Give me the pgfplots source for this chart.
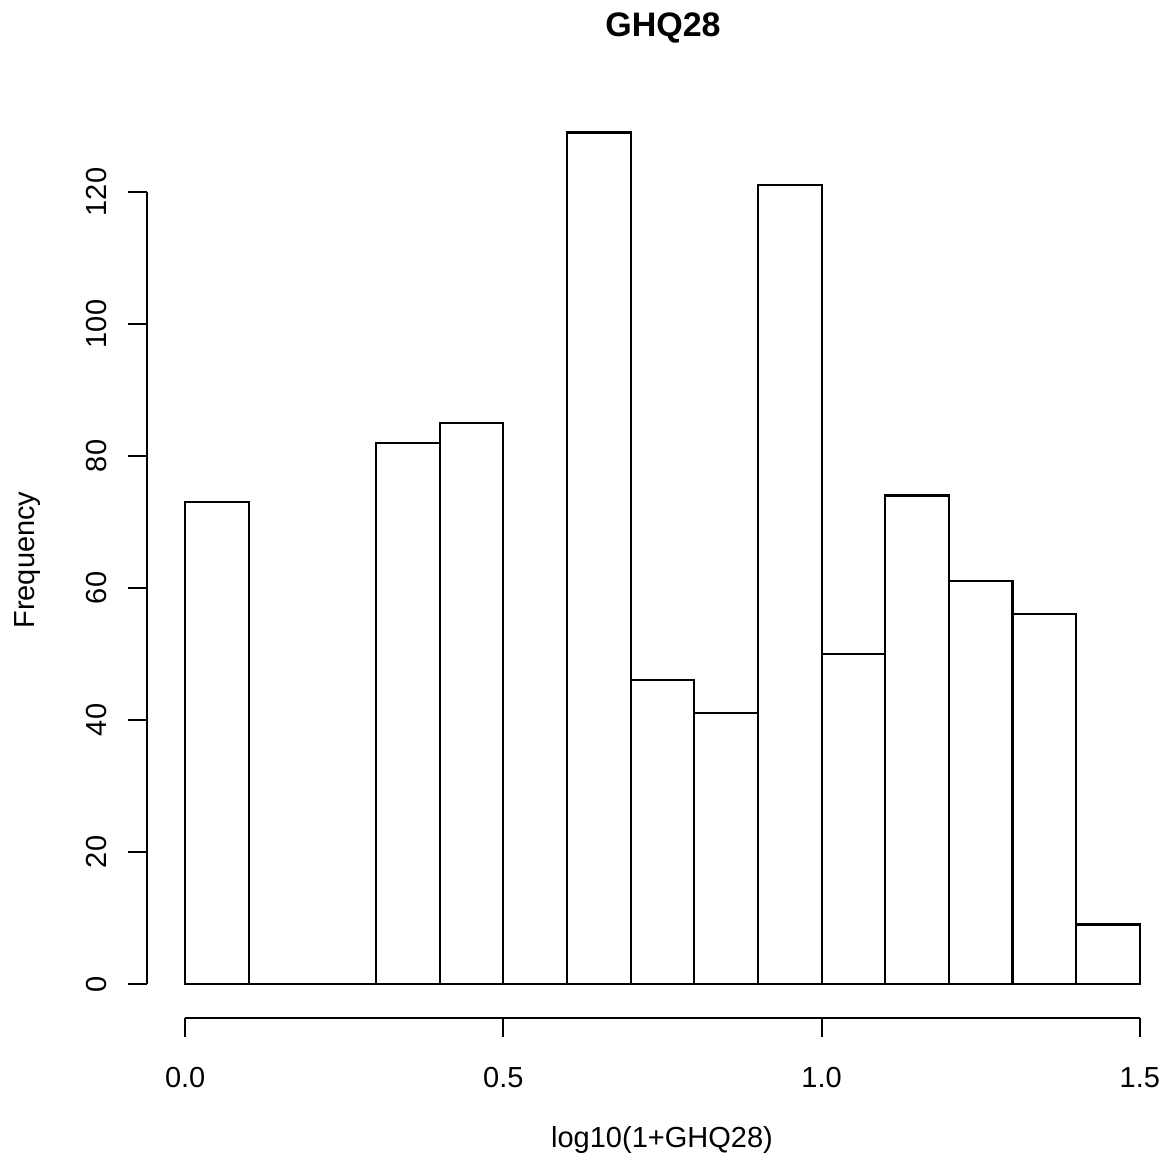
\documentclass[border=0pt]{standalone}
\usepackage{fontspec}
\setmainfont{Liberation Sans}
\usepackage{pgfplots}
\pgfplotsset{compat=1.18}
\begin{document}
\begin{tikzpicture}[x=1pt,y=1pt]
\begin{axis}[
  at={(73.5pt,75.5pt)}, anchor=south west,
  scale only axis, width=515.5pt, height=459.75pt,
  xmin=-0.06, xmax=1.56, ymin=-5.16, ymax=134.16,
  axis line style={draw=none}, ticks=none,
  clip=false,
]
\addplot[ybar interval, fill=white, draw=black, line width=1.1pt] coordinates {
(0.0,73) (0.1,0) (0.2,0) (0.3,82) (0.4,85) (0.5,0) (0.6,129) (0.7,46)
(0.8,41) (0.9,121) (1.0,50) (1.1,74) (1.2,61) (1.3,56) (1.4,9) (1.5,9)};
% y axis
\draw[line width=1.1pt] (axis cs:-0.06,0) -- (axis cs:-0.06,120);
\pgfplotsinvokeforeach{0,20,40,60,80,100,120}{
  \draw[line width=1.1pt] (axis cs:-0.06,#1) -- ([xshift=-9.5pt]axis cs:-0.06,#1);
  \node[rotate=90, font=\fontsize{14.5}{17}\selectfont] at ([xshift=-25pt]axis cs:-0.06,#1) {#1};
}
% x axis
\draw[line width=1.1pt] (axis cs:0,-5.16) -- (axis cs:1.5,-5.16);
\pgfplotsinvokeforeach{0,0.5,1,1.5}{
  \draw[line width=1.1pt] (axis cs:#1,-5.16) -- ([yshift=-9.5pt]axis cs:#1,-5.16);
}
\node[font=\fontsize{14.5}{17}\selectfont] at ([yshift=-30pt]axis cs:0,-5.16) {0.0};
\node[font=\fontsize{14.5}{17}\selectfont] at ([yshift=-30pt]axis cs:0.5,-5.16) {0.5};
\node[font=\fontsize{14.5}{17}\selectfont] at ([yshift=-30pt]axis cs:1,-5.16) {1.0};
\node[font=\fontsize{14.5}{17}\selectfont] at ([yshift=-30pt]axis cs:1.5,-5.16) {1.5};
\end{axis}
\node[font=\fontsize{14.5}{17}\selectfont] at (331pt,14.5pt) {log10(1+GHQ28)};
\node[rotate=90, font=\fontsize{14.5}{17}\selectfont] at (14pt,304.5pt) {Frequency};
\node[font=\fontsize{17}{20}\selectfont\bfseries] at (331.5pt,570.5pt) {GHQ28};
\pgfresetboundingbox
\path[use as bounding box] (0,0) rectangle (583.5pt,584.5pt);
\end{tikzpicture}
\end{document}
